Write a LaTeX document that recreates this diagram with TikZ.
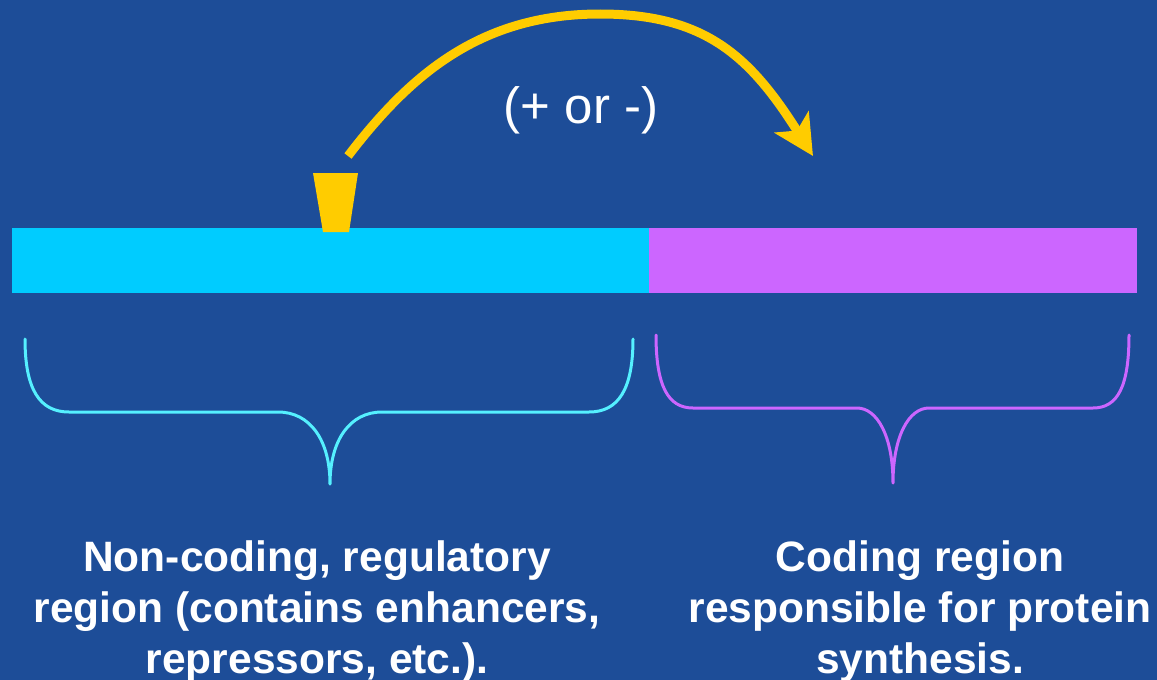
\documentclass[tikz,border=0pt]{standalone}
\usepackage{fontspec}
\setmainfont{Liberation Sans}
\usetikzlibrary{arrows.meta}
\definecolor{bgblue}{HTML}{1D4D98}
\definecolor{dnacyan}{HTML}{00CCFF}
\definecolor{dnapurple}{HTML}{CC66FF}
\definecolor{bracecyan}{HTML}{55F0FF}
\definecolor{gold}{HTML}{FFCC00}
\tikzset{
  bracepath/.style={line width=3pt, line cap=round, line join=round},
  caption/.style={text=white, font=\bfseries\fontsize{42.5}{51}\selectfont, align=center, inner sep=0pt},
  signlabel/.style={text=white, font=\fontsize{51}{60}\selectfont, inner sep=0pt},
  effect/.style={draw=gold, line width=9pt, -{Stealth[length=40pt, width=40pt, inset=10pt]}},
}
\begin{document}
\begin{tikzpicture}[x=1pt, y=-1pt]
  \fill[bgblue] (0,0) rectangle (1157,680);
  \useasboundingbox (0,0) rectangle (1157,680);

  % DNA bar
  \path[fill=dnacyan] (12,228) rectangle (649,293);
  \path[fill=dnapurple] (649,228) rectangle (1137,293);

  % regulatory factor (trapezoid)
  \fill[gold] (313,173) -- (358,173) -- (349,232) -- (323,232) -- cycle;
  \coordinate (factor) at (348,156);
  \coordinate (target) at (813,156);

  % effect arrow
  \draw[effect] (factor) .. controls (410,75) and (480,14) .. (600,14)
                         .. controls (705,14) and (750,56) .. (target);
  \node[signlabel, anchor=base] (sign) at (581,123) {(+ or -)};

  % braces
  \draw[bracepath, draw=bracecyan] (25,339) .. controls (25,390) and (40,412) .. (69,412)
     -- (278,412) .. controls (310,412) and (330,440) .. (330,484)
     .. controls (330,440) and (350,412) .. (382,412)
     -- (589,412) .. controls (618,412) and (633,390) .. (633,339);
  \draw[bracepath, draw=dnapurple] (656,335) .. controls (656,386) and (668,408) .. (693,408)
     -- (857,408) .. controls (877,408) and (893,436) .. (893,483)
     .. controls (893,436) and (909,408) .. (929,408)
     -- (1093,408) .. controls (1118,408) and (1129,386) .. (1129,335);

  % captions
  \node[caption, anchor=north] (noncoding) at (317,540)
    {Non-coding, regulatory\\region (contains enhancers,\\repressors, etc.).};
  \node[caption, anchor=north] (coding) at (920,540)
    {Coding region\\responsible for protein\\synthesis.};
\end{tikzpicture}
\end{document}
